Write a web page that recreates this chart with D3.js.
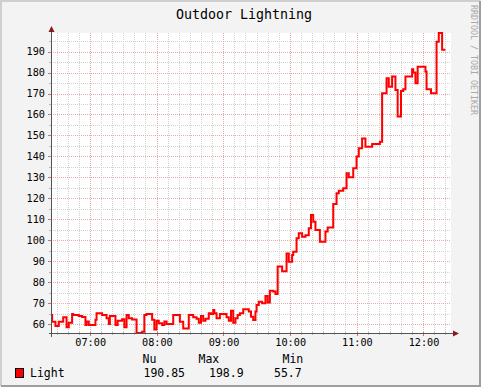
<!DOCTYPE html>
<html>
<head>
<meta charset="utf-8">
<script src="https://cdnjs.cloudflare.com/ajax/libs/d3/7.8.5/d3.min.js"></script>
<style>
    body { margin: 0; background: #F3F3F3; }
    text { font-family: "DejaVu Sans Mono", monospace; }
</style>
</head>
<body>
<div id="chart"></div>
<script>
// values (step line, times of each step)
var times = ["06:25", "06:26", "06:29", "06:32", "06:36", "06:39", "06:41", "06:44", "06:45", "06:50",
    "06:53", "06:56", "06:57", "06:59", "07:05", "07:06", "07:11", "07:15", "07:17", "07:18",
    "07:23", "07:25", "07:29", "07:31", "07:33", "07:35", "07:38", "07:42", "07:47", "07:49",
    "07:51", "07:56", "07:58", "08:00", "08:02", "08:05", "08:07", "08:09", "08:15", "08:21",
    "08:24", "08:29", "08:33", "08:36", "08:38", "08:40", "08:42", "08:44", "08:47", "08:49",
    "08:51", "08:52", "08:54", "08:57", "09:03", "09:05", "09:07", "09:09", "09:11", "09:13",
    "09:15", "09:18", "09:23", "09:25", "09:27", "09:29", "09:30", "09:32", "09:35", "09:38",
    "09:40", "09:42", "09:45", "09:47", "09:49", "09:53", "09:57", "09:59", "10:02", "10:03",
    "10:06", "10:08", "10:11", "10:14", "10:17", "10:19", "10:21", "10:23", "10:27", "10:32",
    "10:34", "10:39", "10:42", "10:44", "10:48", "10:51", "10:53", "10:57", "11:00", "11:02",
    "11:05", "11:08", "11:14", "11:21", "11:23", "11:27", "11:29", "11:32", "11:35", "11:37",
    "11:40", "11:42", "11:44", "11:50", "11:51", "11:53", "11:55", "12:02", "12:03", "12:07",
    "12:12", "12:14", "12:17", "12:20"];
var light = [64.3, 61.1, 59.0, 61.1, 63.2, 58.5, 60.6, 64.8, 64.3, 63.8,
    63.3, 59.5, 61.2, 59.5, 62.0, 65.1, 64.3, 62.7, 60.0, 63.8,
    59.5, 61.6, 62.3, 58.5, 64.3, 62.7, 62.2, 55.7, 56.3, 64.3,
    64.8, 62.0, 57.4, 61.6, 60.3, 59.5, 61.2, 60.0, 64.3, 61.1,
    57.9, 64.3, 63.2, 62.5, 60.6, 63.8, 61.5, 62.5, 65.1, 64.8,
    66.7, 65.1, 62.7, 64.8, 63.2, 61.6, 66.3, 60.6, 62.7, 64.3,
    65.1, 67.0, 66.0, 63.5, 61.9, 66.0, 69.1, 70.6, 69.9, 73.4,
    70.2, 75.9, 75.5, 74.3, 87.4, 85.2, 93.7, 89.7, 92.9, 94.5,
    100.9, 103.3, 101.7, 102.4, 105.7, 112.0, 108.8, 104.9, 99.3, 104.1,
    106.0, 117.3, 122.4, 123.6, 124.8, 132.0, 130.0, 134.3, 139.9, 143.9,
    148.6, 144.6, 145.9, 147.0, 170.1, 177.3, 173.3, 178.1, 171.7, 159.0,
    171.2, 172.0, 178.1, 181.6, 180.0, 174.9, 182.8, 180.5, 172.0, 170.1,
    194.7, 198.9, 190.85, 190.85];

var yTicks = [60, 70, 80, 90, 100, 110, 120, 130, 140, 150, 160, 170, 180, 190];
var xTicks = ["07:00", "08:00", "09:00", "10:00", "11:00", "12:00"];
var legendHeaders = ["Nu", "Max", "Min"];
var legendValues = ["190.85", "198.9", "55.7"];
var seriesName = "Light";
var title = "Outdoor Lightning";
var watermark = "RRDTOOL / TOBI OETIKER";
var timeStart = "06:25", timeEnd = "12:25";
var yMin = 55.7, yMax = 198.9;

var W = 481, H = 387;
var plot = { left: 51, top: 33, width: 400, height: 300 };

var parseTime = d3.timeParse("%H:%M");

var data = times.map(function(t, i) {
    return { date: parseTime(t), value: light[i] };
});

var svg = d3.select("#chart").append("svg")
    .attr("width", W)
    .attr("height", H);

// background + rrdtool shaded frame
svg.append("rect").attr("width", W).attr("height", H).attr("fill", "#F3F3F3");
svg.append("path").attr("d", "M1,386 V1 H480").attr("fill", "none")
    .attr("stroke", "#CFCFCF").attr("stroke-width", 2);
svg.append("path").attr("d", "M1,386 H480 V1").attr("fill", "none")
    .attr("stroke", "#9E9E9E").attr("stroke-width", 2);

var x = d3.scaleTime()
    .domain([parseTime(timeStart), parseTime(timeEnd)])
    .range([plot.left, plot.left + plot.width]);
var y = d3.scaleLinear()
    .domain([yMin, yMax])
    .range([plot.top + plot.height, plot.top]);

// canvas
svg.append("rect")
    .attr("x", plot.left).attr("y", plot.top)
    .attr("width", plot.width).attr("height", plot.height)
    .attr("fill", "#FFFFFF");

var grid = svg.append("g").attr("shape-rendering", "crispEdges");

// minor grid (every 10 min / every 5 units)
var minorX = d3.timeMinute.every(10).range(x.domain()[0], x.domain()[1]);
var minorY = d3.range(60, yMax, 5);

grid.selectAll(".minx").data(minorX.filter(function(d) { return d.getMinutes() != 0; }))
    .enter().append("line")
    .attr("x1", function(d) { return Math.round(x(d)) + 0.5; })
    .attr("x2", function(d) { return Math.round(x(d)) + 0.5; })
    .attr("y1", plot.top).attr("y2", plot.top + plot.height)
    .attr("stroke", "#D2D2D2").attr("stroke-dasharray", "1,1");

grid.selectAll(".miny").data(minorY.filter(function(d) { return d % 10 != 0; }))
    .enter().append("line")
    .attr("x1", plot.left).attr("x2", plot.left + plot.width)
    .attr("y1", function(d) { return Math.round(y(d)) + 0.5; })
    .attr("y2", function(d) { return Math.round(y(d)) + 0.5; })
    .attr("stroke", "#D2D2D2").attr("stroke-dasharray", "1,1");

// major grid
grid.selectAll(".majx").data(xTicks)
    .enter().append("line")
    .attr("x1", function(d) { return Math.round(x(parseTime(d))) + 0.5; })
    .attr("x2", function(d) { return Math.round(x(parseTime(d))) + 0.5; })
    .attr("y1", plot.top).attr("y2", plot.top + plot.height)
    .attr("stroke", "#EBAAAA").attr("stroke-dasharray", "1,1");

grid.selectAll(".majy").data(yTicks)
    .enter().append("line")
    .attr("x1", plot.left).attr("x2", plot.left + plot.width)
    .attr("y1", function(d) { return Math.round(y(d)) + 0.5; })
    .attr("y2", function(d) { return Math.round(y(d)) + 0.5; })
    .attr("stroke", "#EBAAAA").attr("stroke-dasharray", "1,1");

// small ticks on the axes
var y0 = plot.top + plot.height;
grid.selectAll(".tickx").data(minorX)
    .enter().append("line")
    .attr("x1", function(d) { return Math.round(x(d)) + 0.5; })
    .attr("x2", function(d) { return Math.round(x(d)) + 0.5; })
    .attr("y1", y0 - 1)
    .attr("y2", function(d) { return d.getMinutes() == 0 ? y0 + 3 : y0 + 2; })
    .attr("stroke", function(d) { return d.getMinutes() == 0 ? "#D07070" : "#B8B8B8"; });
grid.selectAll(".ticky").data(minorY)
    .enter().append("line")
    .attr("y1", function(d) { return Math.round(y(d)) + 0.5; })
    .attr("y2", function(d) { return Math.round(y(d)) + 0.5; })
    .attr("x1", function(d) { return d % 10 == 0 ? plot.left - 3 : plot.left - 2; })
    .attr("x2", plot.left + 1)
    .attr("stroke", function(d) { return d % 10 == 0 ? "#D07070" : "#B8B8B8"; });

// the series, drawn as steps
var line = d3.line()
    .curve(d3.curveStepAfter)
    .x(function(d) { return x(d.date); })
    .y(function(d) { return y(d.value); });

svg.append("defs").append("clipPath")
    .attr("id", "clip")
    .append("rect")
    .attr("x", plot.left - 1).attr("y", plot.top - 2)
    .attr("width", plot.width + 2).attr("height", plot.height + 3);

svg.append("path")
    .datum(data)
    .attr("clip-path", "url(#clip)")
    .attr("fill", "none")
    .attr("stroke", "#FF0000")
    .attr("stroke-width", 2)
    .attr("stroke-linejoin", "miter")
    .attr("d", line);

// axes with arrows
var axis = svg.append("g").attr("shape-rendering", "crispEdges");
axis.append("line")
    .attr("x1", plot.left - 2).attr("x2", plot.left + plot.width + 3)
    .attr("y1", y0 + 0.5).attr("y2", y0 + 0.5)
    .attr("stroke", "#555555");
axis.append("line")
    .attr("x1", plot.left + 0.5).attr("x2", plot.left + 0.5)
    .attr("y1", y0 + 4).attr("y2", plot.top - 2)
    .attr("stroke", "#555555");
svg.append("path")
    .attr("d", "M" + (plot.left + plot.width + 2) + "," + (y0 - 2.5) + " L" + (plot.left + plot.width + 8) + "," + (y0 + 0.5) +
        " L" + (plot.left + plot.width + 2) + "," + (y0 + 3.5) + "Z")
    .attr("fill", "#8B1A1A");
svg.append("path")
    .attr("d", "M" + (plot.left - 2.5) + "," + (plot.top - 1) + " L" + (plot.left + 0.5) + "," + (plot.top - 7) +
        " L" + (plot.left + 3.5) + "," + (plot.top - 1) + "Z")
    .attr("fill", "#8B1A1A");

// tick labels
svg.selectAll(".ylab").data(yTicks)
    .enter().append("text")
    .attr("x", 45)
    .attr("y", function(d) { return y(d) + 3.6; })
    .attr("text-anchor", "end")
    .attr("font-size", "10.2px")
    .attr("fill", "#000")
    .text(function(d) { return d; });

svg.selectAll(".xlab").data(xTicks)
    .enter().append("text")
    .attr("x", function(d) { return x(parseTime(d)) + 0.8; })
    .attr("y", 345.5)
    .attr("text-anchor", "middle")
    .attr("font-size", "10.2px")
    .attr("fill", "#000")
    .text(function(d) { return d; });

// title and watermark
svg.append("text")
    .attr("x", 244)
    .attr("y", 18.5)
    .attr("text-anchor", "middle")
    .attr("font-size", "13.3px")
    .attr("fill", "#000")
    .text(title);

svg.append("text")
    .attr("transform", "translate(470.5,5) rotate(90)")
    .attr("font-size", "8.3px")
    .attr("fill", "#A8A8A8")
    .text(watermark);

// legend
var headerX = [142.5, 198.5, 282.5];
var valueX = [143.5, 209, 274];
svg.selectAll(".lhead").data(legendHeaders)
    .enter().append("text")
    .attr("x", function(d, i) { return headerX[i]; })
    .attr("y", 363.3)
    .attr("font-size", "11.5px")
    .attr("fill", "#000")
    .text(function(d) { return d; });

svg.append("rect")
    .attr("x", 15.5).attr("y", 368.5)
    .attr("width", 8).attr("height", 9)
    .attr("fill", "#FF0000")
    .attr("stroke", "#000");

svg.append("text")
    .attr("x", 30)
    .attr("y", 376.8)
    .attr("font-size", "11.5px")
    .attr("fill", "#000")
    .text(seriesName);

svg.selectAll(".lval").data(legendValues)
    .enter().append("text")
    .attr("x", function(d, i) { return valueX[i]; })
    .attr("y", 376.8)
    .attr("font-size", "11.5px")
    .attr("fill", "#000")
    .text(function(d) { return d; });
</script>
</body>
</html>
